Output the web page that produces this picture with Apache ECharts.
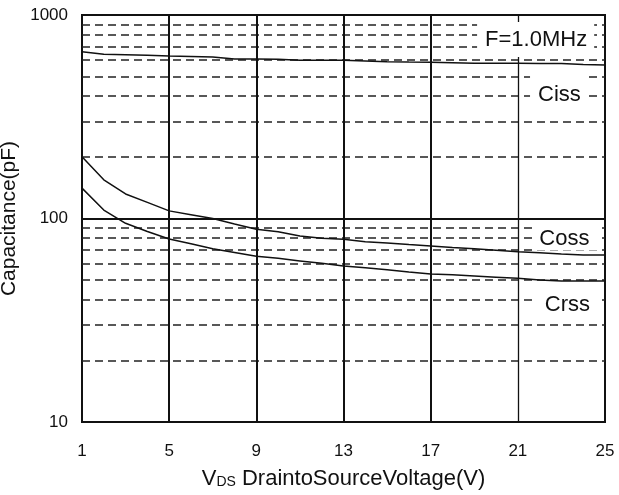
<!DOCTYPE html>
<html>
<head>
<meta charset="utf-8">
<script src="https://cdn.jsdelivr.net/npm/echarts@6/dist/echarts.min.js"></script>
<style>
  html, body { margin: 0; padding: 0; background: #fff; }
  #chart { width: 619px; height: 495px; }
</style>
</head>
<body>
<div id="chart"></div>
<script>
// Drain-to-source voltage (V), one point per volt
const voltages = ['1','2','3','4','5','6','7','8','9','10','11','12','13','14','15','16','17','18','19','20','21','22','23','24','25'];

// Capacitances (pF)
const ciss = [660, 641, 638, 635, 629, 625, 621, 608, 607, 606, 599, 599, 599, 594, 589, 587, 586, 583, 580, 580, 580, 578, 577, 571, 568];
const coss = [201, 155, 132, 120, 109, 104.4, 100, 94, 88.5, 86, 82, 80, 79, 76.9, 75.8, 74.5, 73.3, 72.1, 71.0, 69.9, 68.7, 67.8, 66.9, 66.1, 66.1];
const crss = [141, 110, 94.7, 86.3, 79.3, 75.2, 71.1, 68.1, 65.2, 63.7, 61.9, 60.2, 58.4, 57.2, 56.0, 54.6, 53.3, 52.9, 52.2, 51.5, 50.8, 49.9, 49.3, 49.3, 49.3];

// Y axis range and grid levels (pF)
const yMin = 10;
const yMax = 1000;
const minorLevels = [20, 30, 40, 50, 60, 70, 80, 90, 200, 300, 400, 500, 600, 700, 800, 900];
const boldVoltages = ['5', '9', '13', '17'];
const thinVoltages = ['21'];

// Curve names and frequency note, placed at [voltage index, pF]
const notes = [
  { name: 'F=1.0MHz', at: [21, 758], shift: [-4, 0], pad: [8, 7, 7, 8] },
  { name: 'Ciss', at: [22, 405], shift: [-2, 0], pad: [9, 8, 9, 8] },
  { name: 'Coss', at: [22, 78.8], shift: [4, -1], pad: [3, 8, 1, 6] },
  { name: 'Crss', at: [22, 37.6], shift: [6, 0], pad: [4, 9, 4, 9] }
];

const FONT = '"Liberation Sans", Arial, Helvetica, sans-serif';
const INK = '#111';

const chart = echarts.init(document.getElementById('chart'), null, { renderer: 'canvas' });

const curve = (name, values) => ({
  name: name,
  type: 'line',
  data: values,
  symbol: 'none',
  smooth: false,
  z: 5,
  lineStyle: { color: INK, width: 1.5 },
  emphasis: { disabled: true },
  silent: true
});

chart.setOption({
  animation: false,
  backgroundColor: '#fff',
  grid: {
    left: 82, right: 14, top: 15, bottom: 73,
    containLabel: false,
    outerBoundsMode: 'none',
    show: true, borderColor: INK, borderWidth: 2
  },
  xAxis: {
    type: 'category',
    data: voltages,
    boundaryGap: false,
    axisLine: { show: true, lineStyle: { color: INK, width: 2 } },
    axisTick: { show: false },
    splitLine: { show: false },
    axisLabel: {
      interval: 3, margin: 21,
      fontSize: 17, fontFamily: FONT, color: INK
    },
    name: '{v|V}{s|DS}{v| DraintoSourceVoltage(V)}',
    nameLocation: 'middle',
    nameGap: 45,
    nameTextStyle: {
      rich: {
        v: { fontSize: 22, fontFamily: FONT, color: INK, verticalAlign: 'bottom', lineHeight: 23 },
        s: { fontSize: 14, fontFamily: FONT, color: INK, verticalAlign: 'bottom', lineHeight: 15, padding: [0, 0, 1, 0] }
      }
    }
  },
  yAxis: {
    type: 'log',
    logBase: 10,
    min: yMin,
    max: yMax,
    axisLine: { show: true, lineStyle: { color: INK, width: 2 } },
    axisTick: { show: false },
    splitLine: { show: true, lineStyle: { color: INK, width: 2 } },
    axisLabel: {
      margin: 14, fontSize: 17, fontFamily: FONT, color: INK,
      formatter: v => String(Math.round(v))
    },
    name: 'Capacitance(pF)',
    nameLocation: 'middle',
    nameGap: 56,
    nameTextStyle: { fontSize: 21, fontFamily: FONT, color: INK }
  },
  series: [
    {
      // grid lines: dashed minor levels and solid voltage lines
      name: 'grid',
      type: 'line',
      data: [],
      z: 2,
      silent: true,
      markLine: {
        silent: true,
        symbol: 'none',
        animation: false,
        label: { show: false },
        data: [
          ...minorLevels.map(v => ({ yAxis: v, lineStyle: { type: [8, 5], color: '#222', width: 1.5 } })),
          ...boldVoltages.map(v => ({ xAxis: v, lineStyle: { type: 'solid', color: INK, width: 2 } })),
          ...thinVoltages.map(v => ({ xAxis: v, lineStyle: { type: 'solid', color: INK, width: 1.3 } }))
        ]
      }
    },
    curve('Ciss', ciss),
    curve('Coss', coss),
    curve('Crss', crss),
    {
      name: 'notes',
      type: 'scatter',
      z: 10,
      silent: true,
      symbolSize: 0,
      itemStyle: { opacity: 0 },
      emphasis: { disabled: true },
      data: notes.map(n => ({
        name: n.name,
        value: n.at,
        label: {
          show: true,
          position: 'inside',
          offset: n.shift,
          formatter: '{b}',
          fontSize: 22,
          lineHeight: 20,
          fontFamily: FONT,
          color: INK,
          opacity: 1,
          textBorderWidth: 0,
          backgroundColor: '#fff',
          padding: n.pad
        }
      }))
    }
  ]
});
</script>
</body>
</html>
